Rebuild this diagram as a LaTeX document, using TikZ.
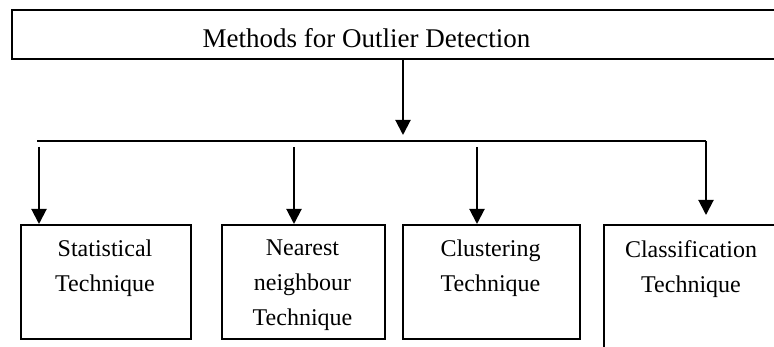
\documentclass[tikz,border=0pt]{standalone}
\usepackage{fontspec}
\setmainfont{Liberation Serif}
\usetikzlibrary{arrows.meta,calc}
\tikzset{
  boxst/.style={draw, line width=1.8pt, rectangle, inner sep=0pt},
  txt/.style={align=center, inner sep=0pt, font=\fontsize{24}{35}\selectfont},
  ttl/.style={inner sep=0pt, font=\fontsize{27}{32}\selectfont},
  arr/.style={line width=2pt, -{Triangle[width=15pt,length=15pt]}},
  busline/.style={line width=1.7pt}
}
\begin{document}
\begin{tikzpicture}[x=1pt,y=-1pt]
\useasboundingbox (0,0) rectangle (774,347);
\clip (0,0) rectangle (774,347);
% top box
\node[boxst, minimum width=779pt, minimum height=49pt, anchor=north west] (top) at (11,9) {};
\node[ttl, anchor=base] (title) at (366.5,48) {Methods for Outlier Detection};
% bus
\coordinate (j) at (403,141);
\coordinate (busL) at (37,141);
\coordinate (busR) at (706,141);
\draw[arr] (top.south -| j) -- ([yshift=6pt]j);
\draw[busline] (busL) -- (busR);
% boxes
\node[boxst, minimum width=170pt, minimum height=114pt, anchor=north west] (b1) at (20,224) {};
\node[boxst, minimum width=163pt, minimum height=114pt, anchor=north west] (b2) at (221,224) {};
\node[boxst, minimum width=177pt, minimum height=114pt, anchor=north west] (b3) at (402,224) {};
\node[boxst, minimum width=176pt, minimum height=150pt, anchor=north west] (b4) at (603,224) {};
% texts
\node[txt, anchor=north] (t1) at (105,240) {Statistical\\Technique};
\node[txt, anchor=north] (t2) at (302.5,240) {Nearest\\neighbour\\Technique};
\node[txt, anchor=north] (t3) at (490.5,240) {Clustering\\Technique};
\node[txt, anchor=north] (t4) at (691,240) {Classification\\Technique};
% arrows
\coordinate (a1) at (39,147);
\coordinate (a2) at (294,147);
\coordinate (a3) at (477,147);
\draw[arr] (a1) -- (a1 |- b1.north);
\draw[arr] (a2) -- (a2 |- b2.north);
\draw[arr] (a3) -- (a3 |- b3.north);
\draw[arr, shorten >=9pt] (busR) -- (busR |- b4.north);
\end{tikzpicture}
\end{document}
